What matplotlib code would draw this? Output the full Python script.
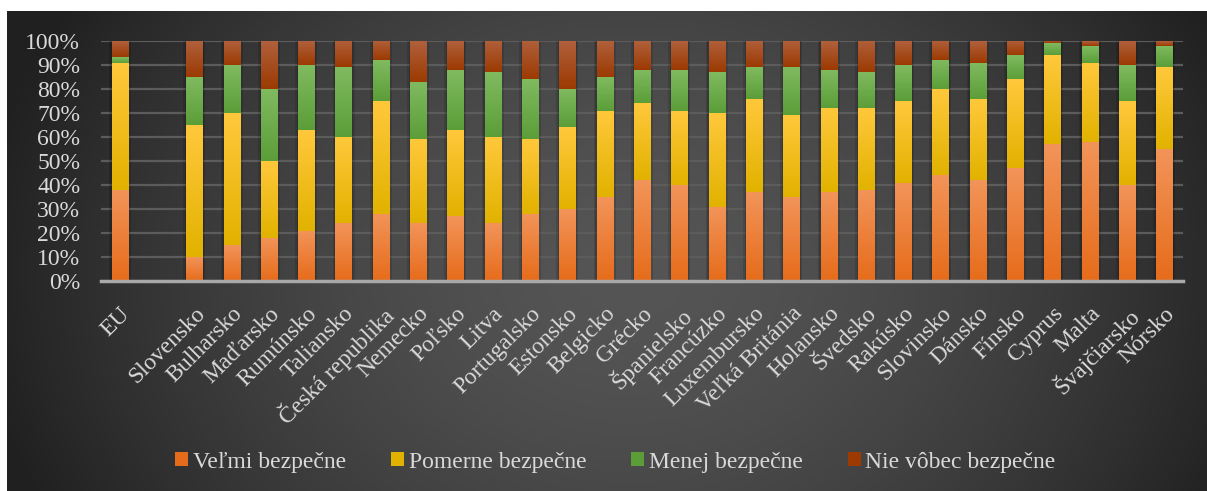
import matplotlib
matplotlib.use('Agg')
import matplotlib.pyplot as plt
import numpy as np
from matplotlib.colors import LinearSegmentedColormap, to_rgb
from matplotlib.patches import Patch

countries = ['EU', '', 'Slovensko', 'Bulharsko', 'Maďarsko', 'Rumúnsko', 'Taliansko',
             'Česká republika', 'Nemecko', 'Poľsko', 'Litva', 'Portugalsko', 'Estonsko',
             'Belgicko', 'Grécko', 'Španielsko', 'Francúzko', 'Luxembursko',
             'Veľká Británia', 'Holansko', 'Švedsko', 'Rakúsko', 'Slovinsko', 'Dánsko',
             'Fínsko', 'Cyprus', 'Malta', 'Švajčiarsko', 'Nórsko']
velmi = [38, 0, 10, 15, 18, 21, 24, 28, 24, 27, 24, 28, 30, 35, 42, 40, 31, 37, 35,
         37, 38, 41, 44, 42, 47, 57, 58, 40, 55]
pomerne = [53, 0, 55, 55, 32, 42, 36, 47, 35, 36, 36, 31, 34, 36, 32, 31, 39, 39, 34,
           35, 34, 34, 36, 34, 37, 37, 33, 35, 34]
menej = [2.5, 0, 20, 20, 30, 27, 29, 17, 24, 25, 27, 25, 16, 14, 14, 17, 17, 13, 20,
         16, 15, 15, 12, 15, 10, 5, 7, 15, 9]
vobec = [6.5, 0, 15, 10, 20, 10, 11, 8, 17, 12, 13, 16, 20, 15, 12, 12, 13, 11, 11,
         12, 13, 10, 8, 9, 6, 1, 2, 10, 2]
series = ['Veľmi bezpečne', 'Pomerne bezpečne', 'Menej bezpečne', 'Nie vôbec bezpečne']

# (top, bottom) shades of each segment gradient
shades = [('#F29459', '#E66C1B'), ('#FFC83C', '#E2B200'),
          ('#80BA60', '#5B9E38'), ('#B0603C', '#9C3A02')]
txt = '#D9D9D9'
plt.rcParams['font.family'] = ['Liberation Serif', 'DejaVu Serif']

fig = plt.figure(figsize=(12.07, 4.91), dpi=100)
fig.patch.set_facecolor('white')

# dark radial background
bg = fig.add_axes([7 / 1207, 0, 1 - 7 / 1207, 480 / 491], zorder=-10)
bg.axis('off')
gx, gy = np.meshgrid(np.linspace(0, 1, 400), np.linspace(0, 1, 200))
r = np.sqrt(((gx - 0.52) / 0.55) ** 2 + ((gy - 0.45) / 1.1) ** 2)
t = np.clip(r, 0, 1) ** 1.6
c0, c1 = np.array(to_rgb('#555555')), np.array(to_rgb('#202020'))
img = c0[None, None, :] * (1 - t[..., None]) + c1[None, None, :] * t[..., None]
bg.imshow(img, extent=(0, 1, 0, 1), aspect='auto', origin='lower')

ax = fig.add_axes([101 / 1207, 1 - 281 / 491, (1183 - 101) / 1207, 240 / 491])
ax.set_facecolor('none')
x = np.arange(len(countries))
w = 0.43

data = [np.array(velmi), np.array(pomerne), np.array(menej), np.array(vobec)]
bottom = np.zeros(len(countries))
grad = np.linspace(0, 1, 64).reshape(-1, 1)
has = np.array([c != '' for c in countries])

# soft shadow behind bars
total = sum(data)
ax.bar(x[has], total[has], width=w + 0.16, color='black', alpha=0.12, zorder=1)
ax.bar(x[has], total[has], width=w + 0.07, color='black', alpha=0.14, zorder=1)

for vals, (top, bot), name in zip(data, shades, series):
    bars = ax.bar(x, vals, w, bottom=bottom, color=bot, zorder=2, label=name)
    cmap = LinearSegmentedColormap.from_list(name, [bot, top])
    for p in bars.patches:
        if p.get_height() <= 0:
            continue
        x0, y0 = p.get_x(), p.get_y()
        ax.imshow(grad, cmap=cmap, extent=(x0, x0 + p.get_width(), y0, y0 + p.get_height()),
                  aspect='auto', origin='lower', zorder=3, interpolation='bilinear')
    bottom = bottom + vals

ax.set_xlim(-0.5, len(countries) - 0.5)
ax.set_ylim(0, 100)
ax.set_yticks(np.arange(0, 101, 10))
ax.set_yticklabels([f'{v}%' for v in range(0, 101, 10)], fontsize=17, color=txt)
ax.yaxis.grid(True, color='#5C5C5C', linewidth=1.6, zorder=0)
ax.set_axisbelow(True)
ax.tick_params(axis='y', length=0, pad=15)
ax.tick_params(axis='x', length=0, pad=16)
ax.set_xticks(x)
ax.set_xticklabels(countries, rotation=45, ha='right', rotation_mode='anchor',
                   fontsize=17, color=txt)
for s in ['top', 'right', 'left']:
    ax.spines[s].set_visible(False)
ax.spines['bottom'].set_color('#A8A8A8')
ax.spines['bottom'].set_linewidth(2.5)
ax.spines['bottom'].set_zorder(5)

handles = [Patch(facecolor=b, edgecolor='none') for _, b in shades]
fig.legend(handles, series, loc='center', bbox_to_anchor=(0.51, 0.059), ncol=4,
           frameon=False, fontsize=17, labelcolor=txt, handlelength=0.55,
           handleheight=0.55, handletextpad=0.2, columnspacing=1.9)

fig.savefig('out.png', dpi=100)
